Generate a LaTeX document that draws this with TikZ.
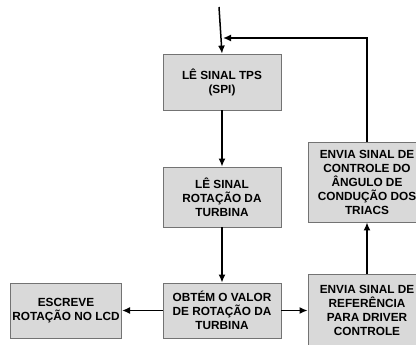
\documentclass[tikz,border=0pt]{standalone}
\usepackage{fontspec}
\setmainfont{Liberation Sans}
\usetikzlibrary{arrows.meta}
\begin{document}
\begin{tikzpicture}[x=1pt,y=-1pt,
    bloco/.style={draw=black!55,fill=black!15,line width=0.8pt,align=center,
      font=\fontsize{11.8}{14}\selectfont\bfseries,inner sep=2pt},
    seta/.style={line width=1.5pt,-{Latex[length=8pt,width=7pt]}},
    linha/.style={line width=1.5pt}]
      \useasboundingbox (0,0) rectangle (416,345);
      \clip (0,0) rectangle (416,345);

      \node[bloco,minimum width=118pt,minimum height=56pt] (tps) at (222,82) {LÊ SINAL TPS\\(SPI)};
      \node[bloco,minimum width=118pt,minimum height=60pt] (rot) at (222,197) {LÊ SINAL\\ROTAÇÃO DA\\TURBINA};
      \node[bloco,minimum width=118pt,minimum height=55pt] (valor) at (222,310.5) {OBTÉM O VALOR\\DE ROTAÇÃO DA\\TURBINA};
      \node[bloco,minimum width=108pt,minimum height=55pt] (lcd) at (66,310.5) {ESCREVE\\ROTAÇÃO NO LCD};
      \node[bloco,minimum width=118pt,minimum height=80pt] (triacs) at (367,182) {ENVIA SINAL DE\\CONTROLE DO\\ÂNGULO DE\\CONDUÇÃO DOS\\TRIACS};
      \node[bloco,minimum width=118pt,minimum height=73pt] (ref) at (367,310.5) {ENVIA SINAL DE\\REFERÊNCIA\\PARA DRIVER\\CONTROLE};

      \coordinate (inicio) at (219,7);
      \coordinate (retorno) at (223,38);

      \draw[seta] (inicio) -- (tps.north);
      \draw[seta] (tps.south) -- (rot.north);
      \draw[seta] (rot.south) -- (valor.north);
      \draw[seta] (valor.west) -- (lcd.east);
      \draw[seta] (valor.east) -- (ref.west);
      \draw[seta] (ref.north) -- (triacs.south);
      \draw[seta] (triacs.north) |- (retorno);
    \end{tikzpicture}
\end{document}
